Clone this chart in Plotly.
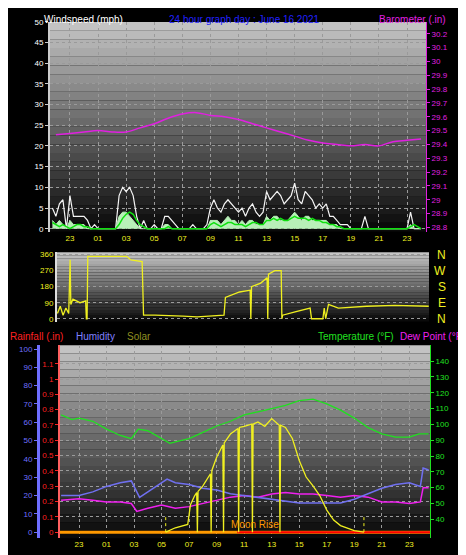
import plotly.graph_objects as go

# hours relative to midnight June 16 (-1 = 23:00 the day before)
wind_t = [h / 4 for h in range(-9, 97)]
gust = [5, 3, 6, 7, 0, 8, 3, 3, 3, 3, 2, 0, 1, 0, 0, 0, 0, 0, 0, 8,
        10, 9, 10, 8, 3, 0, 2, 0, 0, 1, 0, 0, 3, 3, 2, 1, 0, 0, 0, 0,
        1, 0, 0, 0, 1, 5, 7, 5, 4, 6, 7, 6, 5, 4, 5, 3, 5, 6, 4, 3,
        4, 9, 7, 8, 9, 8, 6, 7, 8, 11, 7, 6, 9, 8, 7, 5, 6, 5, 6, 3,
        3, 2, 1, 1, 1, 0, 0, 0, 0, 3, 0, 0, 0, 0, 0, 0, 0, 0, 0, 0,
        0, 0, 4, 0, 0, 0]
speed = [2, 1, 2, 1, 0, 2, 1, 1, 1, 1, 0, 0, 0, 0, 0, 0, 0, 0, 0, 3,
         4, 4, 3, 2, 1, 0, 0, 0, 0, 0, 0, 0, 1, 1, 0, 0, 0, 0, 0, 0,
         0, 0, 0, 0, 0, 2, 2, 2, 1, 2, 3, 2, 2, 1, 2, 1, 2, 2, 1, 1,
         1, 3, 2, 3, 3, 2, 2, 2, 3, 4, 3, 2, 3, 3, 2, 2, 2, 2, 2, 1,
         1, 1, 0, 0, 0, 0, 0, 0, 0, 0, 0, 0, 0, 0, 0, 0, 0, 0, 0, 0,
         0, 0, 1, 0, 0, 0]
avg = [1.5, 1, 0.5, 1, 0.5, 0, 0.5, 1, 1, 0.5, 0.5, 0, 0, 0, 0, 0, 0, 0, 0, 1,
       2.5, 3.5, 4, 3.5, 2, 1, 0.5, 0, 0, 0, 0, 0, 0, 0.5, 0, 0, 0, 0, 0, 0,
       0, 0, 0, 0, 0, 1, 1.5, 1, 0.5, 1, 1.5, 1.5, 1, 1, 1, 0.5, 1, 1.5, 1.5, 1,
       1, 2, 2, 2.5, 2, 2.5, 2, 2, 2.5, 3, 2.5, 2.5, 2.5, 2, 2.5, 2, 2, 1.5, 1.5, 1,
       1, 0.5, 0.5, 0, 0, 0, 0, 0, 0, 0, 0, 0, 0, 0, 0, 0, 0, 0, 0, 0,
       0, 0, 0.5, 1, 0.5, 0]

baro_t = list(range(-2, 25))
baro = [29.47, 29.48, 29.49, 29.50, 29.49, 29.49, 29.52, 29.55, 29.59, 29.62,
        29.63, 29.61, 29.60, 29.58, 29.55, 29.52, 29.49, 29.46, 29.43, 29.41,
        29.40, 29.39, 29.40, 29.39, 29.42, 29.43, 29.44]

dir_t = [-1.9, -1.7, -1.5, -1.3, -1.1, -1.0, -0.95, -0.8, -0.3, 0.1, 0.15, 0.2,
         0.25, 1, 3, 3.3, 4.1, 4.2, 5, 7, 8, 9.9, 10.0, 11, 11.75, 11.8, 11.85,
         12.5, 12.95, 13.0, 13.05, 13.5, 13.95, 14.0, 14.05, 15, 16, 16.1, 16.9,
         17.0, 17.1, 17.3, 18, 20, 22, 24.4]
direction = [30, 70, 20, 60, 30, 330, 80, 110, 90, 100, 0, 0, 350, 350, 350, 330,
             320, 20, 20, 15, 10, 20, 120, 150, 160, 0, 180, 200, 230, 0, 250,
             270, 270, 0, 20, 40, 60, 0, 0, 60, 0, 80, 60, 70, 75, 70]

temp_t = [-2.3, -1.5, -1, 0, 1, 2, 2.8, 3.3, 4, 5, 5.6, 6, 7, 8, 9, 10, 11, 12,
          13, 14, 15, 16, 17, 18, 19, 20, 21, 22, 23, 23.7, 24.4]
temp = [106, 103, 104, 102, 97, 93, 91, 97, 96, 91, 88, 89, 91, 95, 99, 102,
        106, 108, 110, 112, 115, 116, 113, 109, 104, 98, 94, 92, 92, 94, 94]

hum_t = [-2.3, -1, 0, 1, 2, 2.8, 3.4, 4, 5, 5.4, 6, 7, 8, 9, 10, 11, 12, 13,
         14, 15, 16, 17, 18, 19, 20, 21, 22, 23, 23.8, 24.0, 24.4]
humidity = [20, 20, 22, 25, 27, 28, 19, 22, 27, 29, 27, 26, 24, 23, 21, 20, 19,
            18, 17, 16, 16, 16, 16, 18, 21, 24, 26, 27, 25, 35, 34]

dew_t = [-2.3, -1, 0, 1, 2, 2.8, 3.2, 4, 5, 6, 7, 8, 9, 10, 11, 12, 13, 14, 15,
         16, 17, 18, 19, 20, 21, 22, 23, 23.8, 24.0, 24.4]
dewpoint = [52, 53, 52, 51, 51, 50, 45, 47, 49, 47, 48, 50, 52, 54, 55, 54, 56,
            57, 56, 56, 55, 54, 55, 54, 51, 51, 50, 51, 60, 60]

solar_t = [5.3, 6, 6.9, 7.1, 7.4, 7.55, 7.6, 7.65, 8, 8.55, 8.6, 8.65, 9, 9.45,
           9.5, 9.55, 10, 10.55, 10.6, 10.65, 11, 11.55, 11.6, 11.65, 12, 12.5,
           13, 13.55, 13.6, 13.65, 14, 14.5, 15, 15.5, 16, 16.5, 17, 17.5, 18,
           19, 19.7]
solar = [0, 40, 70, 250, 330, 360, 0, 370, 420, 530, 0, 560, 680, 790, 0, 810,
         890, 940, 0, 950, 960, 980, 0, 980, 1000, 960, 1030, 970, 0, 970, 950,
         850, 650, 500, 420, 330, 200, 110, 60, 15, 0]

rain_t = [-2.4, 24.5]
rain = [0, 0]

hour_ticks = list(range(-1, 25, 2))
hour_labels = ["23", "01", "03", "05", "07", "09", "11", "13", "15", "17", "19", "21", "23"]

W, H = 466, 555
px = lambda v: v / W
py = lambda v: 1 - v / H

FONT = "Liberation Sans"
grid = dict(showgrid=True, gridcolor="#9a9a9a", griddash="dot", gridwidth=1)
tick = dict(size=8, family=FONT)

fig = go.Figure()
fig.add_trace(go.Scatter(x=wind_t, y=gust, mode="lines", line=dict(color="#f4f4f4", width=1.2),
                         xaxis="x", yaxis="y"))
fig.add_trace(go.Scatter(x=wind_t, y=speed, mode="lines", fill="tozeroy", fillcolor="#b8f0b8",
                         line=dict(color="#b8f0b8", width=1), xaxis="x", yaxis="y"))
fig.add_trace(go.Scatter(x=wind_t, y=avg, mode="lines", line=dict(color="#10e010", width=1.5),
                         xaxis="x", yaxis="y"))
fig.add_trace(go.Scatter(x=baro_t, y=baro, mode="lines", line=dict(color="#e020e0", width=1.5, shape="spline"),
                         xaxis="x", yaxis="y2"))
fig.add_trace(go.Scatter(x=dir_t, y=direction, mode="lines", line=dict(color="#f0f020", width=1.3),
                         xaxis="x2", yaxis="y3"))
fig.add_trace(go.Scatter(x=temp_t, y=temp, mode="lines", line=dict(color="#20e020", width=1.3),
                         xaxis="x3", yaxis="y4"))
fig.add_trace(go.Scatter(x=dew_t, y=dewpoint, mode="lines", line=dict(color="#f020f0", width=1.5),
                         xaxis="x3", yaxis="y4"))
fig.add_trace(go.Scatter(x=hum_t, y=humidity, mode="lines", line=dict(color="#7070f0", width=1.5),
                         xaxis="x3", yaxis="y5"))
fig.add_trace(go.Scatter(x=solar_t, y=solar, mode="lines", line=dict(color="#f0f020", width=1.3),
                         xaxis="x3", yaxis="y7"))
fig.add_trace(go.Scatter(x=rain_t, y=rain, mode="lines", line=dict(color="#ff9900", width=3),
                         xaxis="x3", yaxis="y6"))
fig.add_trace(go.Scatter(x=[10.5, 24.5], y=rain, mode="lines", line=dict(color="#ff0000", width=2),
                         xaxis="x3", yaxis="y6"))

# grey-to-black background bands
shapes = []
for xr, yr in [("x domain", "y domain"), ("x2 domain", "y3 domain"), ("x3 domain", "y4 domain")]:
    n = 24
    for i in range(n):
        g = int(195 - 185 * i / (n - 1))
        shapes.append(dict(type="rect", xref=xr, yref=yr, x0=0, x1=1, y0=1 - (i + 1) / n, y1=1 - i / n,
                           fillcolor=f"rgb({g},{g},{g})", line_width=0, layer="below"))
# sunrise / sunset markers
for t in [5.3, 19.7]:
    shapes.append(dict(type="line", xref="x3", yref="y6", x0=t, x1=t, y0=0, y1=0.1,
                       line=dict(color="#f0f020", width=1, dash="dot")))

fig.update_layout(
    width=W, height=H, margin=dict(l=0, r=0, t=0, b=0),
    paper_bgcolor="black", plot_bgcolor="black", showlegend=False, shapes=shapes,
    font=dict(family=FONT),
    xaxis=dict(domain=[px(42), px(418)], range=[-2.42, 24.35], tickvals=hour_ticks, ticktext=hour_labels,
               tickfont=dict(color="#f0f020", **tick), anchor="y", zeroline=False, **grid),
    yaxis=dict(domain=[py(222), py(10)], range=[-0.7, 50], dtick=5, tickfont=dict(color="white", **tick),
               ticks="outside", ticklen=3, tickcolor="#ccc", zeroline=False, showline=True,
               linecolor="#ccc", linewidth=2, **grid),
    yaxis2=dict(overlaying="y", side="right", range=[28.77, 30.286], dtick=0.1,
                tickfont=dict(color="#e020e0", **tick), ticks="outside", ticklen=3, tickcolor="#e020e0",
                showgrid=False, zeroline=False, showline=True, linecolor="#e020e0"),
    xaxis2=dict(domain=[px(49), px(421)], range=[-1.93, 24.42], tickvals=hour_ticks, showticklabels=False,
                anchor="y3", zeroline=False, showgrid=False),
    yaxis3=dict(domain=[py(313), py(243)], range=[-16, 372], tickvals=[0, 90, 180, 270, 360],
                tickfont=dict(color="#f0f020", **tick), anchor="x2", zeroline=False, showline=True,
                linecolor="#ddd", linewidth=2, **grid),
    xaxis3=dict(domain=[px(52), px(422)], range=[-2.38, 24.5], tickvals=hour_ticks, ticktext=hour_labels,
                anchor="y4", tickfont=dict(color="#f0f020", **tick), zeroline=False, **grid),
    yaxis4=dict(domain=[py(532), py(337)], range=[28, 150], tickvals=list(range(40, 150, 10)), side="right",
                anchor="x3", tickfont=dict(color="#20e020", **tick), ticks="outside", ticklen=3,
                tickcolor="#20e020", showgrid=False, zeroline=False, showline=True, linecolor="#20e020"),
    yaxis5=dict(overlaying="y4", anchor="free", position=px(30), range=[-3.3, 102], dtick=10,
                tickfont=dict(color="#6f6fff", **tick), ticks="outside", ticklen=3, tickcolor="#6f6fff",
                showline=True, linecolor="#6f6fff", linewidth=3, showgrid=False, zeroline=False),
    yaxis6=dict(overlaying="y4", anchor="free", position=px(51), range=[-0.04, 1.22],
                tickvals=[i / 10 for i in range(12)], ticktext=["0"] + [f"{i/10:g}" for i in range(1, 12)],
                tickfont=dict(color="#ff2020", **tick), ticks="outside", ticklen=3, tickcolor="#ff2020",
                showline=True, linecolor="#ff6060", linewidth=2, zeroline=False, **grid),
    yaxis7=dict(overlaying="y4", range=[-55, 1694], visible=False),
)

ann = [
    dict(text="Windspeed (mph)", x=px(34), y=py(0), xanchor="left", color="white"),
    dict(text="24 hour graph day : June 16 2021", x=px(236), y=py(0), xanchor="center", color="#2020ff"),
    dict(text="Barometer (.in)", x=px(440), y=py(0), xanchor="right", color="#e020e0"),
    dict(text="Rainfall (.in)", x=px(0), y=py(320), xanchor="left", color="#ff2020"),
    dict(text="Humidity", x=px(66), y=py(320), xanchor="left", color="#8080ff"),
    dict(text="Solar", x=px(117), y=py(320), xanchor="left", color="#909020"),
    dict(text="Temperature (°F)", x=px(388), y=py(320), xanchor="right", color="#20e020"),
    dict(text="Dew Point (°F)", x=px(390), y=py(320), xanchor="left", color="#f020f0"),
]
for a in ann:
    fig.add_annotation(text=a["text"], x=a["x"], y=a["y"], xref="paper", yref="paper", xanchor=a["xanchor"],
                       yanchor="top", showarrow=False, font=dict(color=a["color"], size=10, family=FONT))
for lab, v in zip(["N", "W", "S", "E", "N"], [360, 270, 180, 90, 0]):
    fig.add_annotation(text=lab, x=px(440), y=v, xref="paper", yref="y3", showarrow=False,
                       font=dict(color="#f0f020", size=12, family=FONT))
fig.add_annotation(text="Moon Rise", x=11.8, y=0, xref="x3", yref="y6", yanchor="bottom", showarrow=False,
                   font=dict(color="#ff9900", size=10, family=FONT))

fig.write_html("out.html")
